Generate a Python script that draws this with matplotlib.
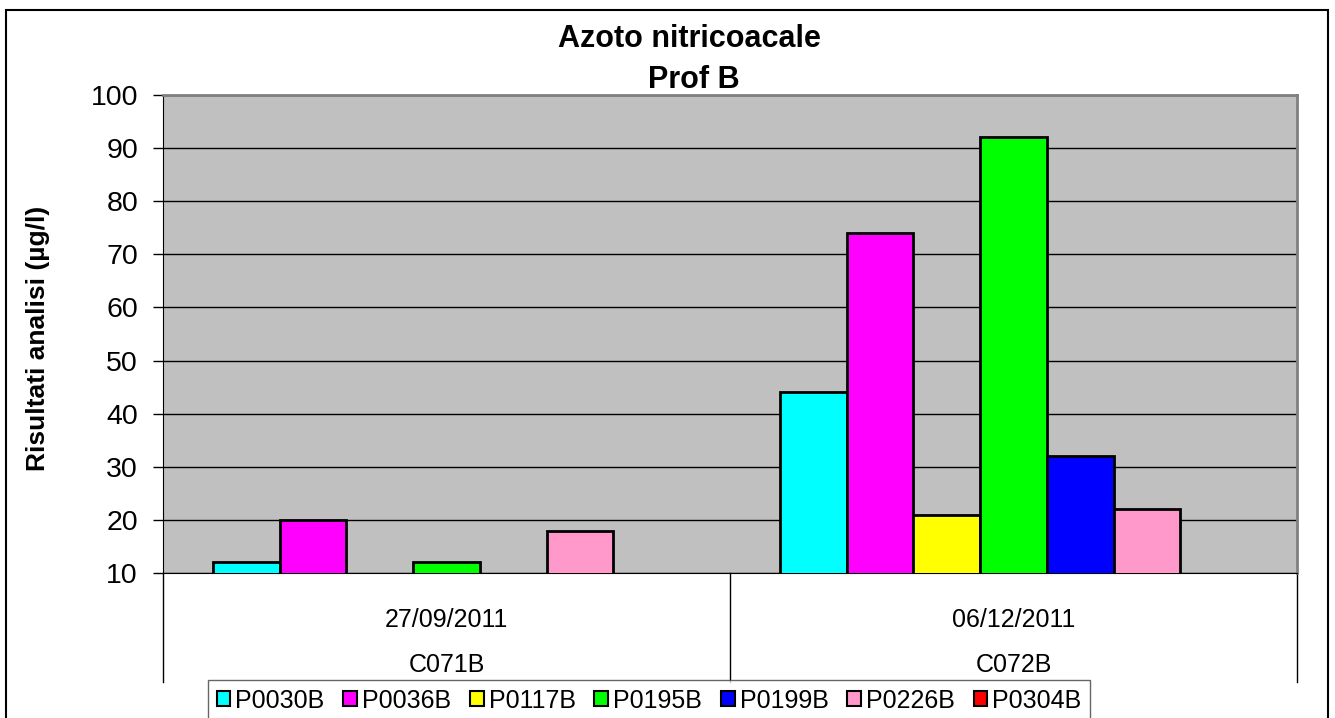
import numpy as np
import matplotlib
matplotlib.use("Agg")
import matplotlib.pyplot as plt
from matplotlib.patches import Rectangle

plt.rcParams['font.family'] = ['Liberation Sans', 'DejaVu Sans']

# dati
dates = ["27/09/2011", "06/12/2011"]
campaigns = ["C071B", "C072B"]
series = ["P0030B", "P0036B", "P0117B", "P0195B", "P0199B", "P0226B", "P0304B"]
colors = ["#00FFFF", "#FF00FF", "#FFFF00", "#00FF00", "#0000FF", "#FF99CC", "#FF0000"]
values = {
    "P0030B": [12, 44],
    "P0036B": [20, 74],
    "P0117B": [np.nan, 21],
    "P0195B": [12, 92],
    "P0199B": [np.nan, 32],
    "P0226B": [18, 22],
    "P0304B": [np.nan, np.nan],
}
y_ticks = [10, 20, 30, 40, 50, 60, 70, 80, 90, 100]

W, H = 1335, 718
fig = plt.figure(figsize=(W / 100, H / 100), dpi=100)
ax = fig.add_axes([163 / W, (H - 573) / H, 1134 / W, 478 / H])
ax.set_facecolor("#C0C0C0")

x = np.arange(len(dates))
bw = 1 / (len(series) + 1.5)
for i, s in enumerate(series):
    off = (i - (len(series) - 1) / 2) * bw
    ax.bar(x + off, values[s], width=bw, bottom=0, color=colors[i],
           edgecolor="black", linewidth=2, zorder=3, label=s)

ax.set_xlim(-0.5, len(dates) - 0.5)
ax.set_ylim(10, 100)
ax.set_yticks(y_ticks)
ax.tick_params(axis='y', labelsize=20.5, length=7, width=1, direction='out', pad=11)
ax.set_xticks([])
ax.yaxis.grid(True, color="black", linewidth=1)
ax.set_axisbelow(True)
for sp in ["top", "right"]:
    ax.spines[sp].set_color("#808080")
    ax.spines[sp].set_linewidth(2)
ax.spines["left"].set_color("black")
ax.spines["bottom"].set_color("black")

# tabella categorie sotto l'asse
depth = (682 - 573) / 478
trans = ax.get_xaxis_transform()
for xv in np.arange(len(dates) + 1) - 0.5:
    ax.plot([xv, xv], [0, -depth], color="black", linewidth=1,
            transform=trans, clip_on=False)
for i in range(len(dates)):
    ax.text(x[i], -(627 - 573) / 478, dates[i], transform=trans,
            ha="center", va="baseline", fontsize=18)
    ax.text(x[i], -(672 - 573) / 478, campaigns[i], transform=trans,
            ha="center", va="baseline", fontsize=18)

# titolo ed etichetta asse y
fig.text(689 / W, 1 - 47 / H, "Azoto nitricoacale", ha="center", va="baseline",
         fontsize=22, fontweight="bold")
fig.text(694 / W, 1 - 88 / H, "Prof B", ha="center", va="baseline",
         fontsize=22, fontweight="bold")
fig.text(38 / W, 1 - 338 / H, "Risultati analisi (µg/l)", rotation=90,
         ha="center", va="center", fontsize=19, fontweight="bold")

# legenda
leg = fig.legend(loc="upper center", bbox_to_anchor=(649 / W, 1 - 680 / H),
                 ncol=len(series), fontsize=18, frameon=True, fancybox=False,
                 handlelength=0.55, handleheight=0.55, handletextpad=0.2,
                 columnspacing=0.75, borderpad=0.35, borderaxespad=0)
leg.get_frame().set_edgecolor("#404040")
leg.get_frame().set_linewidth(1)
for h in leg.legend_handles:
    h.set_linewidth(1.5)

# bordo esterno
fig.patches.append(Rectangle((6 / W, -0.05), 1322 / W, 1.05 - 10 / H,
                             transform=fig.transFigure, fill=False,
                             edgecolor="black", linewidth=1.5))

fig.savefig("out.png", dpi=100)
